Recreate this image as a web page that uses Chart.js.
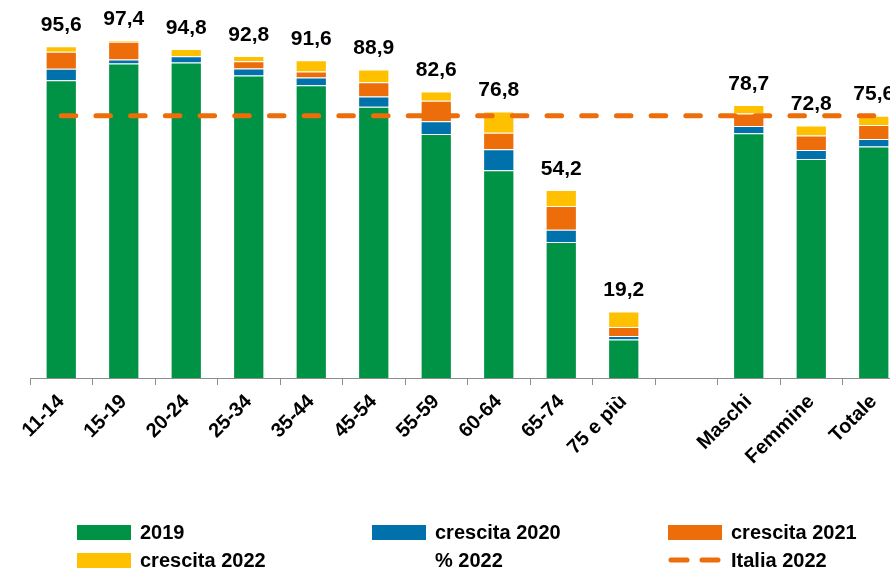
<!DOCTYPE html>
<html>
<head>
<meta charset="utf-8">
<script src="https://cdn.jsdelivr.net/npm/chart.js@4/dist/chart.umd.min.js"></script>
<style>
    html, body { margin: 0; padding: 0; background: #fff; overflow: hidden; width: 890px; height: 570px; }
    canvas { display: block; }
</style>
</head>
<body>
<canvas id="chart" width="905" height="570"></canvas>
<script>
const categorie = ['11-14', '15-19', '20-24', '25-34', '35-44', '45-54', '55-59', '60-64', '65-74', '75 e più', '', 'Maschi', 'Femmine', 'Totale'];
const base2019 = [85.8, 90.6, 90.9, 87.2, 84.4, 78.2, 70.3, 59.9, 39.2, 11.1, null, 70.5, 63.1, 66.7];
const crescita2020 = [3.3, 1.2, 1.8, 2.0, 2.2, 2.9, 3.7, 6.0, 3.5, 1.0, null, 2.1, 2.6, 2.2];
const crescita2021 = [4.9, 5.1, 0, 2.1, 1.7, 4.1, 5.9, 4.8, 6.9, 2.6, null, 3.6, 4.2, 4.0];
const crescita2022 = [1.6, 0.5, 2.1, 1.5, 3.3, 3.7, 2.7, 6.1, 4.6, 4.5, null, 2.5, 2.9, 2.7];
const perc2022 = [95.6, 97.4, 94.8, 92.8, 91.6, 88.9, 82.6, 76.8, 54.2, 19.2, null, 78.7, 72.8, 75.6];
const italia2022 = 75.6;

const FONT = "'Liberation Sans', Arial, sans-serif";
const segBorder = 'rgba(255,255,255,0.45)';

// etichette sopra le barre (valori % 2022)
const etichette = {
    id: 'etichette',
    afterDatasetsDraw(chart) {
        const idx = chart.data.datasets.findIndex(d => d.label === '% 2022');
        const meta = chart.getDatasetMeta(idx);
        const ctx = chart.ctx;
        ctx.save();
        ctx.font = 'bold 21px ' + FONT;
        ctx.fillStyle = '#000';
        ctx.textAlign = 'center';
        ctx.textBaseline = 'middle';
        meta.data.forEach((pt, i) => {
            const v = perc2022[i];
            if (v == null) return;
            ctx.fillText(v.toFixed(1).replace('.', ','), pt.x, pt.y - 21);
        });
        ctx.restore();
    }
};

// legenda a griglia 3 colonne
const legenda = {
    id: 'legenda',
    afterDraw(chart) {
        const ctx = chart.ctx;
        const colX = [77, 372, 668];
        const rowY = [532, 560];
        ctx.save();
        ctx.font = 'bold 20px ' + FONT;
        ctx.textBaseline = 'middle';
        chart.data.datasets.forEach((ds, i) => {
            const x = colX[i % 3];
            const y = rowY[Math.floor(i / 3)];
            if (ds.type === 'line' && ds.showLine !== false) {
                ctx.strokeStyle = ds.borderColor;
                ctx.lineWidth = 5;
                ctx.lineCap = 'round';
                ctx.beginPath();
                ctx.moveTo(x + 3, y); ctx.lineTo(x + 19, y);
                ctx.moveTo(x + 34, y); ctx.lineTo(x + 50, y);
                ctx.stroke();
            } else if (ds.type !== 'line') {
                ctx.fillStyle = ds.backgroundColor;
                ctx.fillRect(x, y - 7, 54, 15);
            }
            ctx.fillStyle = '#000';
            ctx.fillText(ds.label, x + 63, y + 1);
        });
        ctx.restore();
    }
};

function initChart() {
    const ctx = document.getElementById('chart').getContext('2d');
    new Chart(ctx, {
        type: 'bar',
        data: {
            labels: categorie,
            datasets: [
                { label: '2019', data: base2019, backgroundColor: '#009245', borderColor: segBorder, borderWidth: 1, order: 1 },
                { label: 'crescita 2020', data: crescita2020, backgroundColor: '#0071AB', borderColor: segBorder, borderWidth: 1, order: 1 },
                { label: 'crescita 2021', data: crescita2021, backgroundColor: '#EC6D0A', borderColor: segBorder, borderWidth: 1, order: 1 },
                { label: 'crescita 2022', data: crescita2022, backgroundColor: '#FFC000', borderColor: segBorder, borderWidth: 1, order: 1 },
                { label: '% 2022', type: 'line', data: perc2022, stack: 'perc', showLine: false, pointRadius: 0, order: 0 },
                {
                    label: 'Italia 2022', type: 'line', stack: 'ita',
                    data: categorie.map(() => italia2022),
                    borderColor: '#EC6D0A', borderWidth: 5, borderDash: [14.5, 20.2],
                    borderCapStyle: 'round', pointRadius: 0, order: 0
                }
            ]
        },
        options: {
            responsive: false,
            animation: false,
            events: [],
            datasets: { bar: { categoryPercentage: 1, barPercentage: 0.5 } },
            layout: { padding: { left: 30, top: 31, right: 0, bottom: 90 } },
            plugins: {
                legend: { display: false },
                tooltip: { enabled: false }
            },
            scales: {
                x: {
                    stacked: true,
                    afterFit: (s) => { s.height = 102; },
                    grid: { drawOnChartArea: false, tickLength: 7, color: '#8c8c8c' },
                    border: { color: '#8c8c8c' },
                    ticks: {
                        minRotation: 45, maxRotation: 45, padding: 5,
                        color: '#000',
                        font: { family: FONT, size: 20, weight: 'bold' }
                    }
                },
                y: {
                    stacked: true,
                    display: false,
                    min: 0,
                    max: 100
                }
            }
        },
        plugins: [etichette, legenda]
    });
}

initChart();
</script>
</body>
</html>
